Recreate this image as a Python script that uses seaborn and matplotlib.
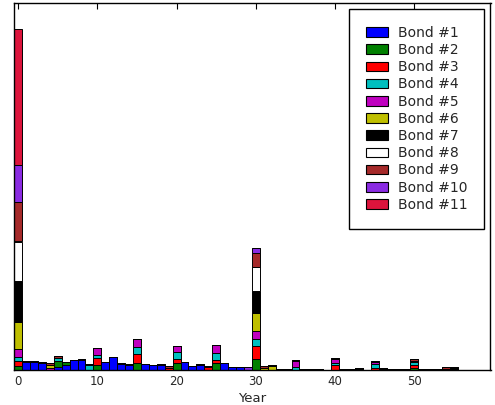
import numpy as np
import pandas as pd
import matplotlib
matplotlib.use("Agg")
import matplotlib.pyplot as plt
from matplotlib.patches import Patch
import seaborn as sns

# ---------------- data (cash flow per year, arbitrary units) ----------------
bond_names = ["Bond #%d" % i for i in range(1, 12)]
bond_colors = ["#0000ff", "#008000", "#ff0000", "#00bfbf", "#bf00bf", "#bfbf00",
               "#000000", "#ffffff", "#a52a2a", "#8a2be2", "#dc143c"]
years = list(range(0, 56))

bond1 = {1: 8, 2: 8, 3: 7.5, 5: 3.3, 6: 5.5, 7: 9.7, 8: 10.5, 11: 8, 12: 13, 13: 6,
         14: 5, 16: 6.3, 17: 5.3, 18: 5, 21: 8.3, 22: 4, 23: 5.3, 26: 7.3, 27: 3,
         28: 3, 54: 1.5}
bond2 = {0: 4, 5: 6, 6: 3, 10: 5, 15: 7.3, 20: 7, 25: 7, 30: 11, 50: 2.5}
bond3 = {0: 5, 10: 7, 15: 8.3, 19: 2.5, 20: 4, 24: 3, 25: 3.3, 30: 13, 40: 5,
         45: 2.5, 50: 3}
bond4 = {0: 4, 5: 2.5, 9: 5, 10: 3, 15: 7.7, 20: 7.5, 25: 6.7, 30: 7.5, 35: 3,
         40: 2.5, 45: 4, 50: 3}
bond5 = {0: 8.5, 4: 2.5, 10: 7, 15: 7.3, 20: 5.7, 25: 8.3, 30: 7.5, 35: 6,
         40: 3.5, 45: 2, 50: 1}
bond6 = {0: 27, 4: 3, 30: 18, 31: 2, 32: 4}
bond7 = {0: 41, 30: 22, 43: 2, 46: 2, 55: 2}
bond8 = {0: 39, 30: 24}
bond9 = {0: 39, 1: 0.8, 2: 0.8, 3: 0.8, 4: 1.5, 5: 2, 8: 1, 9: 1, 13: 1, 14: 1,
         18: 1.5, 19: 2, 23: 1, 24: 1, 30: 14, 31: 2.5, 32: 1.5, 33: 1.5, 34: 1.5,
         35: 1, 36: 1.2, 37: 1.2, 38: 1, 40: 1, 41: 1, 42: 1, 45: 1, 47: 0.6,
         48: 0.6, 49: 0.6, 50: 1.5, 51: 0.8, 52: 0.8, 53: 1, 54: 1.5, 55: 1.5}
bond10 = {0: 37, 29: 3, 30: 4.5}
bond11 = {0: 136}

flows = [bond1, bond2, bond3, bond4, bond5, bond6, bond7, bond8, bond9, bond10, bond11]

rows = []
for name, f in zip(bond_names, flows):
    for y in years:
        rows.append((y, name, float(f.get(y, 0.0))))
df = pd.DataFrame(rows, columns=["Year", "Bond", "Amount"])

# ---------------- plot ----------------
sns.set_style("white")
plt.rcParams["font.family"] = ["DejaVu Sans"]

fig = plt.figure(figsize=(4.95, 4.05), dpi=100)
ax = fig.add_axes([13.7 / 495, 35 / 405, (490.5 - 13.7) / 495, 367 / 405])

sns.histplot(data=df, x="Year", weights="Amount", hue="Bond",
             hue_order=bond_names[::-1],
             palette=dict(zip(bond_names, bond_colors)),
             multiple="stack", discrete=True, shrink=1, alpha=1,
             edgecolor="black", linewidth=0.7, legend=False, ax=ax)

ax.set_xlim(-0.55, 59.6)
ax.set_ylim(0, 367)
ax.set_xticks(range(0, 60, 10))
ax.set_yticks([])
ax.tick_params(axis="x", direction="in", top=True, bottom=True, length=4,
               width=0.8, labelsize=8.5, color="black")
ax.set_xlabel("Year", fontsize=9.5, labelpad=3)
ax.set_ylabel("")
for s in ax.spines.values():
    s.set_visible(True)
    s.set_color("black")
    s.set_linewidth(1.0)

handles = [Patch(facecolor=c, edgecolor="black", linewidth=0.8) for c in bond_colors]
leg = ax.legend(handles, bond_names, loc="upper right", fontsize=10,
                labelspacing=0.23, borderpad=1.2, handlelength=1.6,
                handleheight=0.7, handletextpad=0.7, borderaxespad=0.45,
                frameon=True, fancybox=False, framealpha=1, edgecolor="black")
leg.get_frame().set_linewidth(1.0)

fig.savefig("out.png", dpi=100)
